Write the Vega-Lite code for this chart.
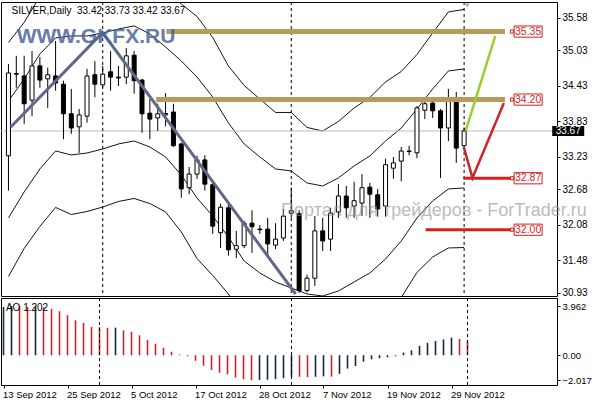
{
  "$schema": "https://vega.github.io/schema/vega-lite/v6.json",
  "background": "#ffffff",
  "padding": {"left": 0, "top": 1, "right": 0, "bottom": 0},
  "bounds": "flush",
  "spacing": 2,
  "config": {
    "view": {"stroke": "#000000", "strokeWidth": 1},
    "axis": {"labelFont": "Liberation Sans", "labelFontSize": 10, "labelColor": "#000000", "tickColor": "#000000", "grid": false, "domain": false, "title": null, "labelOverlap": false, "labelFlush": false},
    "text": {"font": "Liberation Sans"}
  },
  "datasets": {
    "candles": [
      {"k":0,"o":33.25,"h":34.80,"l":32.66,"c":34.65},
      {"k":1,"o":34.64,"h":34.94,"l":34.40,"c":34.63},
      {"k":2,"o":34.60,"h":34.94,"l":33.79,"c":34.13},
      {"k":3,"o":34.19,"h":35.02,"l":33.92,"c":34.77},
      {"k":4,"o":34.77,"h":34.92,"l":34.40,"c":34.53},
      {"k":5,"o":34.55,"h":34.74,"l":34.06,"c":34.62},
      {"k":6,"o":34.60,"h":35.19,"l":34.35,"c":34.48},
      {"k":7,"o":34.46,"h":34.52,"l":33.53,"c":33.96},
      {"k":8,"o":33.96,"h":34.38,"l":33.62,"c":33.72},
      {"k":9,"o":33.74,"h":34.04,"l":33.30,"c":33.94},
      {"k":10,"o":33.92,"h":34.72,"l":33.81,"c":34.60},
      {"k":11,"o":34.62,"h":34.85,"l":34.24,"c":34.46},
      {"k":12,"o":34.45,"h":34.77,"l":34.40,"c":34.63},
      {"k":13,"o":34.67,"h":35.02,"l":34.35,"c":34.58},
      {"k":14,"o":34.58,"h":34.77,"l":34.43,"c":34.565},
      {"k":15,"o":34.58,"h":35.07,"l":34.46,"c":34.94},
      {"k":16,"o":34.95,"h":35.02,"l":34.30,"c":34.52},
      {"k":17,"o":34.53,"h":34.55,"l":33.64,"c":33.96},
      {"k":18,"o":33.97,"h":34.21,"l":33.53,"c":33.87},
      {"k":19,"o":33.89,"h":34.13,"l":33.67,"c":33.96},
      {"k":20,"o":33.94,"h":34.31,"l":33.75,"c":33.965},
      {"k":21,"o":33.99,"h":34.13,"l":33.40,"c":33.42},
      {"k":22,"o":33.45,"h":33.47,"l":32.54,"c":32.69},
      {"k":23,"o":32.71,"h":33.06,"l":32.60,"c":32.94},
      {"k":24,"o":32.94,"h":33.25,"l":32.86,"c":33.18},
      {"k":25,"o":33.18,"h":33.26,"l":32.66,"c":32.77},
      {"k":26,"o":32.76,"h":32.79,"l":31.93,"c":32.06},
      {"k":27,"o":31.95,"h":32.44,"l":31.69,"c":32.38},
      {"k":28,"o":32.37,"h":32.45,"l":31.56,"c":31.66},
      {"k":29,"o":31.67,"h":31.98,"l":31.52,"c":31.73},
      {"k":30,"o":31.73,"h":32.15,"l":31.69,"c":32.11},
      {"k":31,"o":32.11,"h":32.33,"l":31.61,"c":32.05},
      {"k":32,"o":32.01,"h":32.08,"l":31.93,"c":32.00},
      {"k":33,"o":32.01,"h":32.20,"l":31.56,"c":31.76},
      {"k":34,"o":31.74,"h":32.11,"l":31.67,"c":31.84},
      {"k":35,"o":31.86,"h":32.35,"l":31.81,"c":32.23},
      {"k":36,"o":32.28,"h":32.71,"l":32.20,"c":32.32},
      {"k":37,"o":32.27,"h":32.33,"l":30.93,"c":30.97},
      {"k":38,"o":30.97,"h":31.24,"l":30.94,"c":31.18},
      {"k":39,"o":31.18,"h":32.23,"l":31.05,"c":31.98},
      {"k":40,"o":31.98,"h":32.20,"l":31.64,"c":31.81},
      {"k":41,"o":31.84,"h":32.37,"l":31.64,"c":32.28},
      {"k":42,"o":32.30,"h":32.77,"l":32.20,"c":32.57},
      {"k":43,"o":32.57,"h":32.74,"l":32.20,"c":32.37},
      {"k":44,"o":32.40,"h":32.81,"l":32.20,"c":32.49},
      {"k":45,"o":32.45,"h":32.94,"l":32.23,"c":32.71},
      {"k":46,"o":32.72,"h":32.79,"l":32.20,"c":32.60},
      {"k":47,"o":32.59,"h":32.69,"l":32.22,"c":32.35},
      {"k":48,"o":32.40,"h":33.20,"l":32.22,"c":33.10},
      {"k":49,"o":33.04,"h":33.23,"l":32.86,"c":33.13},
      {"k":50,"o":33.16,"h":33.40,"l":32.82,"c":33.33},
      {"k":51,"o":33.33,"h":33.42,"l":33.26,"c":33.32},
      {"k":52,"o":33.30,"h":34.09,"l":33.21,"c":34.06},
      {"k":53,"o":34.02,"h":34.21,"l":33.87,"c":34.13},
      {"k":54,"o":34.14,"h":34.21,"l":33.89,"c":34.01},
      {"k":55,"o":34.01,"h":34.04,"l":32.875,"c":33.72},
      {"k":56,"o":33.72,"h":34.38,"l":33.50,"c":34.21},
      {"k":57,"o":34.23,"h":34.33,"l":33.13,"c":33.38},
      {"k":58,"o":33.42,"h":33.73,"l":33.42,"c":33.67}
    ],
    "bands": [
      {"k":0,"u2":35.166,"u1":34.177,"d1":32.198,"d2":31.209},
      {"k":2,"u2":35.504,"u1":34.549,"d1":32.638,"d2":31.683},
      {"k":4,"u2":35.944,"u1":34.971,"d1":33.027,"d2":32.055},
      {"k":6,"u2":36.197,"u1":35.242,"d1":33.331,"d2":32.376},
      {"k":8,"u2":36.282,"u1":35.276,"d1":33.264,"d2":32.257},
      {"k":10,"u2":36.265,"u1":35.276,"d1":33.297,"d2":32.308},
      {"k":12,"u2":36.307,"u1":35.326,"d1":33.365,"d2":32.384},
      {"k":14,"u2":36.366,"u1":35.394,"d1":33.450,"d2":32.477},
      {"k":16,"u2":36.417,"u1":35.445,"d1":33.500,"d2":32.528},
      {"k":18,"u2":36.265,"u1":35.310,"d1":33.399,"d2":32.443},
      {"k":20,"u2":36.020,"u1":35.090,"d1":33.230,"d2":32.300},
      {"k":22,"u2":35.817,"u1":34.853,"d1":32.925,"d2":31.962},
      {"k":24,"u2":35.605,"u1":34.582,"d1":32.536,"d2":31.513},
      {"k":26,"u2":35.250,"u1":34.244,"d1":32.232,"d2":31.226},
      {"k":28,"u2":34.768,"u1":33.805,"d1":31.877,"d2":30.913},
      {"k":30,"u2":34.439,"u1":33.450,"d1":31.471,"d2":30.482},
      {"k":32,"u2":34.210,"u1":33.230,"d1":31.268,"d2":30.288},
      {"k":34,"u2":33.982,"u1":33.027,"d1":31.116,"d2":30.161},
      {"k":36,"u2":33.982,"u1":32.993,"d1":31.015,"d2":30.025},
      {"k":38,"u2":33.729,"u1":32.790,"d1":30.913,"d2":29.975},
      {"k":40,"u2":33.669,"u1":32.739,"d1":30.879,"d2":29.949},
      {"k":42,"u2":33.830,"u1":32.875,"d1":30.964,"d2":30.009},
      {"k":44,"u2":34.058,"u1":33.078,"d1":31.116,"d2":30.135},
      {"k":46,"u2":34.236,"u1":33.247,"d1":31.268,"d2":30.279},
      {"k":48,"u2":34.498,"u1":33.500,"d1":31.505,"d2":30.507},
      {"k":50,"u2":34.675,"u1":33.720,"d1":31.809,"d2":30.854},
      {"k":52,"u2":34.963,"u1":34.041,"d1":32.198,"d2":31.277},
      {"k":54,"u2":35.326,"u1":34.380,"d1":32.486,"d2":31.539},
      {"k":56,"u2":35.682,"u1":34.684,"d1":32.689,"d2":31.691},
      {"k":58,"u2":35.724,"u1":34.718,"d1":32.706,"d2":31.699}
    ],
    "ao": [
      {"k":0,"v":3.88,"d":"u"},{"k":1,"v":3.962,"d":"u"},{"k":2,"v":3.91,"d":"d"},{"k":3,"v":3.88,"d":"d"},
      {"k":4,"v":3.94,"d":"u"},{"k":5,"v":3.85,"d":"d"},{"k":6,"v":3.73,"d":"d"},{"k":7,"v":3.54,"d":"d"},
      {"k":8,"v":3.22,"d":"d"},{"k":9,"v":2.81,"d":"d"},{"k":10,"v":2.59,"d":"d"},{"k":11,"v":2.27,"d":"d"},
      {"k":12,"v":2.26,"d":"d"},{"k":13,"v":2.21,"d":"d"},{"k":14,"v":2.22,"d":"u"},{"k":15,"v":2.00,"d":"d"},
      {"k":16,"v":1.89,"d":"d"},{"k":17,"v":1.60,"d":"d"},{"k":18,"v":1.22,"d":"d"},{"k":19,"v":0.93,"d":"d"},
      {"k":20,"v":0.61,"d":"d"},{"k":21,"v":0.28,"d":"d"},{"k":22,"v":0.06,"d":"d"},{"k":23,"v":-0.08,"d":"d"},
      {"k":24,"v":-0.45,"d":"d"},{"k":25,"v":-0.85,"d":"d"},{"k":26,"v":-1.18,"d":"d"},{"k":27,"v":-1.40,"d":"d"},
      {"k":28,"v":-1.54,"d":"d"},{"k":29,"v":-1.80,"d":"d"},{"k":30,"v":-1.94,"d":"d"},{"k":31,"v":-2.017,"d":"d"},
      {"k":32,"v":-1.99,"d":"u"},{"k":33,"v":-1.97,"d":"u"},{"k":34,"v":-1.92,"d":"u"},{"k":35,"v":-1.85,"d":"u"},
      {"k":36,"v":-1.72,"d":"u"},{"k":37,"v":-1.74,"d":"d"},{"k":38,"v":-1.76,"d":"d"},{"k":39,"v":-1.73,"d":"u"},
      {"k":40,"v":-1.70,"d":"u"},{"k":41,"v":-1.72,"d":"d"},{"k":42,"v":-1.50,"d":"u"},{"k":43,"v":-1.07,"d":"u"},
      {"k":44,"v":-0.87,"d":"u"},{"k":45,"v":-0.52,"d":"u"},{"k":46,"v":-0.33,"d":"u"},{"k":47,"v":-0.24,"d":"u"},
      {"k":48,"v":-0.17,"d":"u"},{"k":49,"v":-0.08,"d":"u"},{"k":50,"v":0.22,"d":"u"},{"k":51,"v":0.40,"d":"u"},
      {"k":52,"v":0.75,"d":"u"},{"k":53,"v":1.00,"d":"u"},{"k":54,"v":1.15,"d":"u"},{"k":55,"v":1.27,"d":"u"},
      {"k":56,"v":1.42,"d":"u"},{"k":57,"v":1.31,"d":"d"},{"k":58,"v":1.202,"d":"d"}
    ],
    "seps": [{"k":12},{"k":36},{"k":58}],
    "levels": [
      {"lvl":35.35,"k":20.1,"k2":63.2,"kind":"tan"},
      {"lvl":34.20,"k":18.8,"k2":63.2,"kind":"tan"},
      {"lvl":32.87,"k":57.9,"k2":64.0,"kind":"red"},
      {"lvl":32.00,"k":53.1,"k2":64.0,"kind":"red"}
    ],
    "trend": [
      {"n":0,"k":0.3,"p":33.737},
      {"n":1,"k":11.98,"p":35.332},
      {"n":2,"k":36.56,"p":30.913}
    ],
    "proj": [
      {"id":"up","n":0,"k":58.2,"p":33.67},
      {"id":"up","n":1,"k":61.97,"p":35.276},
      {"id":"dn","n":0,"k":57.95,"p":33.40},
      {"id":"dn","n":1,"k":59.06,"p":32.875},
      {"id":"dn","n":2,"k":63.06,"p":34.143}
    ],
    "last": [{"p":33.67}]
  },
  "vconcat": [
    {
      "width": 556,
      "height": 294,
      "layer": [
        {
          "data": {"name": "bands"},
          "transform": [{"fold": ["u2", "u1", "d1", "d2"], "as": ["band", "v"]}],
          "mark": {"type": "line", "clip": true, "stroke": "#151515", "strokeWidth": 1},
          "encoding": {
            "x": {"field": "k", "type": "quantitative", "scale": {"domain": [-0.3125, 69.1875], "nice": false, "zero": false}, "axis": null},
            "y": {"field": "v", "type": "quantitative", "scale": {"domain": [30.879, 35.85], "nice": false, "zero": false},
                  "axis": {"orient": "right", "title": null, "values": [35.58, 35.03, 34.43, 33.83, 33.23, 32.68, 32.08, 31.48, 30.93], "tickCount": 30, "format": ".2f", "tickSize": 3, "labelPadding": 2, "labelBaseline": "middle", "labelOverlap": false, "labelFlush": false}},
            "detail": {"field": "band"}
          }
        },
        {
          "data": {"name": "last"},
          "mark": {"type": "rule", "stroke": "#c0c0c0", "strokeWidth": 1},
          "encoding": {
            "y": {"field": "p", "type": "quantitative", "scale": {"domain": [30.879, 35.85], "nice": false, "zero": false}}
          }
        },
        {
          "data": {"name": "seps"},
          "mark": {"type": "rule", "stroke": "#000000", "strokeWidth": 1, "strokeDash": [3, 3]},
          "encoding": {
            "x": {"field": "k", "type": "quantitative", "scale": {"domain": [-0.3125, 69.1875], "nice": false, "zero": false}, "axis": null}
          }
        },
        {
          "data": {"name": "candles"},
          "mark": {"type": "rule", "stroke": "#000000", "strokeWidth": 1},
          "encoding": {
            "x": {"field": "k", "type": "quantitative", "scale": {"domain": [-0.3125, 69.1875], "nice": false, "zero": false}, "axis": null},
            "y": {"field": "l", "type": "quantitative", "scale": {"domain": [30.879, 35.85], "nice": false, "zero": false}},
            "y2": {"field": "h"}
          }
        },
        {
          "data": {"name": "candles"},
          "mark": {"type": "bar", "width": 4, "stroke": "#000000", "strokeWidth": 1},
          "encoding": {
            "x": {"field": "k", "type": "quantitative", "scale": {"domain": [-0.3125, 69.1875], "nice": false, "zero": false}, "axis": null},
            "y": {"field": "o", "type": "quantitative", "scale": {"domain": [30.879, 35.85], "nice": false, "zero": false}},
            "y2": {"field": "c"},
            "fill": {"condition": {"test": "datum.c >= datum.o", "value": "#ffffff"}, "value": "#000000"}
          }
        },
        {
          "data": {"name": "levels"},
          "transform": [{"filter": "datum.kind == 'tan'"}],
          "mark": {"type": "rule", "stroke": "#b8995e", "strokeWidth": 5},
          "encoding": {
            "x": {"field": "k", "type": "quantitative", "scale": {"domain": [-0.3125, 69.1875], "nice": false, "zero": false}, "axis": null},
            "x2": {"field": "k2"},
            "y": {"field": "lvl", "type": "quantitative", "scale": {"domain": [30.879, 35.85], "nice": false, "zero": false}}
          }
        },
        {
          "data": {"name": "levels"},
          "transform": [{"filter": "datum.kind == 'red'"}],
          "mark": {"type": "rule", "stroke": "#d41f1f", "strokeWidth": 3},
          "encoding": {
            "x": {"field": "k", "type": "quantitative", "scale": {"domain": [-0.3125, 69.1875], "nice": false, "zero": false}, "axis": null},
            "x2": {"field": "k2"},
            "y": {"field": "lvl", "type": "quantitative", "scale": {"domain": [30.879, 35.85], "nice": false, "zero": false}}
          }
        },
        {
          "data": {"name": "trend"},
          "mark": {"type": "line", "stroke": "#5e6a86", "strokeWidth": 3},
          "encoding": {
            "x": {"field": "k", "type": "quantitative", "scale": {"domain": [-0.3125, 69.1875], "nice": false, "zero": false}, "axis": null},
            "y": {"field": "p", "type": "quantitative", "scale": {"domain": [30.879, 35.85], "nice": false, "zero": false}},
            "order": {"field": "n"}
          }
        },
        {
          "data": {"name": "proj"},
          "transform": [{"filter": "datum.id == 'up'"}],
          "mark": {"type": "line", "strokeWidth": 2.5, "stroke": "#9acd32"},
          "encoding": {
            "x": {"field": "k", "type": "quantitative", "scale": {"domain": [-0.3125, 69.1875], "nice": false, "zero": false}, "axis": null},
            "y": {"field": "p", "type": "quantitative", "scale": {"domain": [30.879, 35.85], "nice": false, "zero": false}},
            "order": {"field": "n"}
          }
        },
        {
          "data": {"name": "proj"},
          "transform": [{"filter": "datum.id == 'dn'"}],
          "mark": {"type": "line", "strokeWidth": 2.5, "stroke": "#c8262b"},
          "encoding": {
            "x": {"field": "k", "type": "quantitative", "scale": {"domain": [-0.3125, 69.1875], "nice": false, "zero": false}, "axis": null},
            "y": {"field": "p", "type": "quantitative", "scale": {"domain": [30.879, 35.85], "nice": false, "zero": false}},
            "order": {"field": "n"}
          }
        },
        {
          "data": {"name": "levels"},
          "mark": {"type": "point", "shape": "square", "size": 10, "filled": true, "fill": "#ffffff", "stroke": "#d41f1f", "strokeWidth": 1, "opacity": 1},
          "encoding": {
            "x": {"datum": 64.1, "type": "quantitative", "scale": {"domain": [-0.3125, 69.1875], "nice": false, "zero": false}, "axis": null},
            "y": {"field": "lvl", "type": "quantitative", "scale": {"domain": [30.879, 35.85], "nice": false, "zero": false}}
          }
        },
        {
          "data": {"name": "levels"},
          "mark": {"type": "point", "shape": "M-1,-0.4H1V0.4H-1Z", "size": 784, "filled": true, "fill": "#ffffff", "stroke": "#d41f1f", "strokeWidth": 1, "opacity": 1},
          "encoding": {
            "x": {"datum": 66.15, "type": "quantitative", "scale": {"domain": [-0.3125, 69.1875], "nice": false, "zero": false}, "axis": null},
            "y": {"field": "lvl", "type": "quantitative", "scale": {"domain": [30.879, 35.85], "nice": false, "zero": false}}
          }
        },
        {
          "data": {"name": "levels"},
          "mark": {"type": "text", "fontSize": 10.5, "fill": "#d41f1f", "align": "center", "baseline": "middle"},
          "encoding": {
            "x": {"datum": 66.15, "type": "quantitative", "scale": {"domain": [-0.3125, 69.1875], "nice": false, "zero": false}, "axis": null},
            "y": {"field": "lvl", "type": "quantitative", "scale": {"domain": [30.879, 35.85], "nice": false, "zero": false}},
            "text": {"field": "lvl", "type": "quantitative", "format": ".2f"}
          }
        },
        {
          "data": {"name": "last"},
          "mark": {"type": "point", "shape": "M-1,-0.31H1V0.31H-1Z", "size": 1024, "filled": true, "fill": "#000000", "opacity": 1},
          "encoding": {
            "x": {"datum": 71.25, "type": "quantitative", "scale": {"domain": [-0.3125, 69.1875], "nice": false, "zero": false}, "axis": null},
            "y": {"field": "p", "type": "quantitative", "scale": {"domain": [30.879, 35.85], "nice": false, "zero": false}}
          }
        },
        {
          "data": {"name": "last"},
          "mark": {"type": "text", "fontSize": 10, "fill": "#ffffff", "align": "center", "baseline": "middle"},
          "encoding": {
            "x": {"datum": 71.25, "type": "quantitative", "scale": {"domain": [-0.3125, 69.1875], "nice": false, "zero": false}, "axis": null},
            "y": {"field": "p", "type": "quantitative", "scale": {"domain": [30.879, 35.85], "nice": false, "zero": false}},
            "text": {"field": "p", "type": "quantitative", "format": ".2f"}
          }
        },
        {
          "data": {"values": [{"t": "SILVER,Daily\u00a0\u00a033.42 33.73 33.42 33.67"}]},
          "mark": {"type": "text", "fontSize": 10, "fill": "#000000", "align": "left", "baseline": "middle"},
          "encoding": {
            "x": {"datum": 0.4, "type": "quantitative", "scale": {"domain": [-0.3125, 69.1875], "nice": false, "zero": false}, "axis": null},
            "y": {"datum": 35.70, "type": "quantitative", "scale": {"domain": [30.879, 35.85], "nice": false, "zero": false}},
            "text": {"field": "t"}
          }
        },
        {
          "data": {"values": [{"t": "WWW.GKFX.RU"}]},
          "mark": {"type": "text", "fontSize": 21, "fontWeight": "bold", "fill": "#4d6699", "opacity": 0.85, "align": "left", "baseline": "alphabetic"},
          "encoding": {
            "x": {"datum": 1.05, "type": "quantitative", "scale": {"domain": [-0.3125, 69.1875], "nice": false, "zero": false}, "axis": null},
            "y": {"datum": 35.16, "type": "quantitative", "scale": {"domain": [30.879, 35.85], "nice": false, "zero": false}},
            "text": {"field": "t"}
          }
        },
        {
          "data": {"values": [{"t": "Портал для трейдеров - ForTrader.ru"}]},
          "mark": {"type": "text", "fontSize": 18, "fill": "#8f8f8f", "opacity": 0.6, "align": "left", "baseline": "alphabetic"},
          "encoding": {
            "x": {"datum": 34.7, "type": "quantitative", "scale": {"domain": [-0.3125, 69.1875], "nice": false, "zero": false}, "axis": null},
            "y": {"datum": 32.235, "type": "quantitative", "scale": {"domain": [30.879, 35.85], "nice": false, "zero": false}},
            "text": {"field": "t"}
          }
        },
        {
          "data": {"values": [{"t": "shift"}]},
          "mark": {"type": "point", "shape": "triangle-down", "size": 22, "filled": true, "fill": "#a8a8a8", "opacity": 1},
          "encoding": {
            "x": {"datum": 58.4, "type": "quantitative", "scale": {"domain": [-0.3125, 69.1875], "nice": false, "zero": false}, "axis": null},
            "y": {"datum": 35.79, "type": "quantitative", "scale": {"domain": [30.879, 35.85], "nice": false, "zero": false}}
          }
        }
      ]
    },
    {
      "width": 556,
      "height": 87,
      "layer": [
        {
          "data": {"name": "ao"},
          "mark": {"type": "rule", "strokeWidth": 1.6},
          "encoding": {
            "x": {"field": "k", "type": "quantitative", "scale": {"domain": [-0.3125, 69.1875], "nice": false, "zero": false},
                  "axis": {"orient": "bottom", "title": null, "values": [0, 8, 16, 24, 32, 40, 48, 56], "tickCount": 30, "labelExpr": "['13 Sep 2012','25 Sep 2012','5 Oct 2012','17 Oct 2012','28 Oct 2012','7 Nov 2012','19 Nov 2012','29 Nov 2012'][datum.value / 8]", "labelAlign": "left", "labelFlush": false, "labelOverlap": false, "tickSize": 3, "labelPadding": 1, "labelFontSize": 9.5, "labelOffset": -1}},
            "y": {"field": "v", "type": "quantitative", "scale": {"domain": [-2.395, 4.606], "nice": false, "zero": false},
                  "axis": {"orient": "right", "title": null, "values": [3.962, 0, -2.017], "tickCount": 10, "labelExpr": "datum.value == 0 ? '0.00' : format(datum.value, '.3f')", "tickSize": 3, "labelPadding": 2, "labelOverlap": false, "labelFlush": false, "labelFontSize": 9.5}},
            "y2": {"datum": 0},
            "stroke": {"condition": {"test": "datum.d == 'u'", "value": "#15283a"}, "value": "#c0272d"}
          }
        },
        {
          "data": {"name": "seps"},
          "mark": {"type": "rule", "stroke": "#000000", "strokeWidth": 1, "strokeDash": [3, 3]},
          "encoding": {
            "x": {"field": "k", "type": "quantitative", "scale": {"domain": [-0.3125, 69.1875], "nice": false, "zero": false}}
          }
        },
        {
          "data": {"values": [{"t": "AO 1.202"}]},
          "mark": {"type": "text", "fontSize": 10, "fill": "#000000", "align": "left", "baseline": "middle"},
          "encoding": {
            "x": {"datum": 0.3, "type": "quantitative", "scale": {"domain": [-0.3125, 69.1875], "nice": false, "zero": false}},
            "y": {"datum": 3.83, "type": "quantitative", "scale": {"domain": [-2.395, 4.606], "nice": false, "zero": false}},
            "text": {"field": "t"}
          }
        }
      ]
    }
  ]
}
